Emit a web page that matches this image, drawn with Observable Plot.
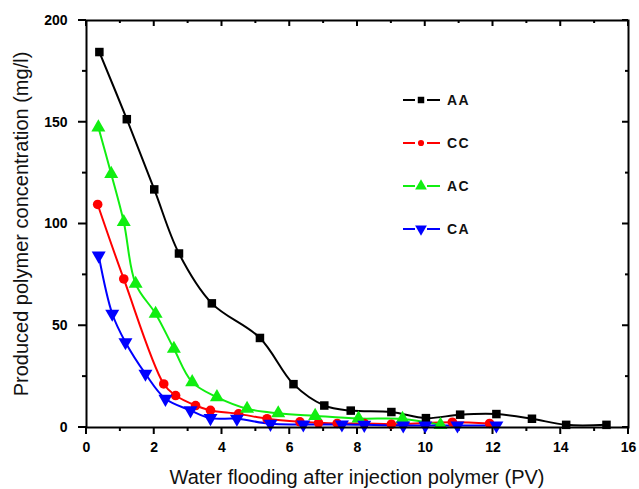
<!DOCTYPE html>
<html>
<head>
<meta charset="utf-8">
<script src="https://cdn.jsdelivr.net/npm/d3@7"></script>
<script src="https://cdn.jsdelivr.net/npm/@observablehq/plot@0.6"></script>
<style>
  html, body { margin: 0; padding: 0; background: #fff; }
  #wrap { position: relative; width: 639px; height: 489px; overflow: hidden; font-family: "Liberation Sans", Arial, sans-serif; }
  .title { position: absolute; font-size: 20px; line-height: 22px; color: #111; white-space: nowrap; }
  #legend { position: absolute; left: 400px; top: 78px; }
  #legend .row { display: flex; align-items: center; height: 43px; }
  #legend span { font-weight: bold; font-size: 14px; letter-spacing: 1.5px; margin-left: 5px; color: #111; }
</style>
</head>
<body>
<div id="wrap">
  <div id="chart"></div>
  <div class="title" id="xtitle" style="left:86px;width:542px;text-align:center;top:466px;">Water flooding after injection polymer (PV)</div>
  <div class="title" id="ytitle" style="left:21px;top:224px;transform:translate(-50%,-50%) rotate(-90deg);">Produced polymer concentration (mg/l)</div>
  <div id="legend"></div>
</div>
<script>
// ---- data ----
const xTicks = [0, 2, 4, 6, 8, 10, 12, 14, 16];
const xMinor = [1, 3, 5, 7, 9, 11, 13, 15];
const yTicks = [0, 50, 100, 150, 200];
const yMinor = [25, 75, 125, 175];

const seriesNames = ["AA", "CC", "AC", "CA"];
const seriesColors = ["#000000", "#ff0000", "#11ee11", "#0000ff"];

const aaX = [0.38, 1.19, 2.0, 2.73, 3.7, 5.12, 6.11, 7.02, 7.8, 9.0, 10.02, 11.03, 12.1, 13.15, 14.16, 15.35];
const aaY = [184.5, 151.5, 117, 85.5, 61, 44, 21.3, 10.8, 8.3, 7.6, 4.6, 6.3, 6.6, 4.3, 1.3, 1.3];

const ccX = [0.33, 1.1, 2.28, 2.63, 3.22, 3.66, 4.49, 5.33, 6.3, 6.85, 7.4, 8.2, 9.0, 10.8, 11.9];
const ccY = [109.6, 73, 21.4, 15.7, 10.8, 8.4, 6.7, 4.3, 2.8, 2.3, 2.0, 2.0, 1.6, 2.6, 2.0];

const acX = [0.35, 0.73, 1.1, 1.45, 2.04, 2.58, 3.12, 3.85, 4.74, 5.66, 6.75, 8.03, 9.33, 10.45];
const acY = [147.5, 124.6, 101, 70.6, 55.9, 38.7, 22.3, 14.9, 9.2, 7.0, 5.7, 4.4, 4.2, 1.3];

const caX = [0.36, 0.76, 1.15, 1.74, 2.33, 3.07, 3.66, 4.44, 5.43, 6.4, 7.54, 8.2, 9.35, 10.0, 10.95, 12.1];
const caY = [84.5, 55.9, 41.9, 26.4, 14.1, 8.4, 4.6, 4.3, 1.8, 1.5, 1.5, 1.3, 1.0, 1.0, 1.0, 1.0];

// ---- layout ----
const W = 639, H = 489, mL = 86, mR = 11, mT = 20, mB = 62;
const xDomain = [0, 16], yDomain = [0, 200];

const downTriangle = {
  draw(ctx, size) {
    const s = Math.sqrt(size / (Math.sqrt(3) / 4));
    const h = s * Math.sqrt(3) / 2;
    ctx.moveTo(-s / 2, -h / 3);
    ctx.lineTo(s / 2, -h / 3);
    ctx.lineTo(0, 2 * h / 3);
    ctx.closePath();
  }
};
const symbols = ["square", "circle", "triangle", downTriangle];
const symbolR = [4.8, 4.8, 5.2, 5.2];

const xs = [aaX, ccX, acX, caX];
const ys = [aaY, ccY, acY, caY];

const seriesMarks = [];
seriesNames.forEach((name, i) => {
  const pts = xs[i].map((x, j) => ({x, y: ys[i][j]}));
  seriesMarks.push(Plot.line(pts, {x: "x", y: "y", stroke: seriesColors[i], strokeWidth: 2, curve: "catmull-rom"}));
});
seriesNames.forEach((name, i) => {
  const pts = xs[i].map((x, j) => ({x, y: ys[i][j]}));
  seriesMarks.push(Plot.dot(pts, {x: "x", y: "y", fill: seriesColors[i], stroke: "none", symbol: () => symbols[i], r: symbolR[i]}));
});

// tick marks drawn as thin rects anchored on the frame edges
const vTick = (data, yv, len, down) => Plot.rect(data, {
  x1: d => d, x2: d => d, y1: () => yv, y2: () => yv,
  insetLeft: -1, insetRight: -1, ...(down ? {insetBottom: -len} : {insetTop: -len}), fill: "black"
});
const hTick = (data, xv, len) => Plot.rect(data, {
  y1: d => d, y2: d => d, x1: () => xv, x2: () => xv,
  insetTop: -1, insetBottom: -1, insetLeft: -len, fill: "black"
});

const chart = Plot.plot({
  width: W,
  height: H,
  marginLeft: mL,
  marginRight: mR,
  marginTop: mT,
  marginBottom: mB,
  style: {fontFamily: "'Liberation Sans', Arial, sans-serif", fontSize: "14px", fontWeight: "bold", color: "black", background: "white"},
  x: {domain: xDomain},
  y: {domain: yDomain},
  marks: [
    Plot.axisX({ticks: xTicks, tickSize: 0, tickPadding: 15, label: null, letterSpacing: 1}),
    Plot.axisY({ticks: yTicks, tickSize: 0, tickPadding: 19, label: null}),
    vTick(xTicks, yDomain[0], 7, true),
    vTick(xMinor, yDomain[0], 4, true),
    vTick(xTicks, yDomain[1], 6, true),
    vTick(xMinor, yDomain[1], 3, true),
    hTick(yTicks, xDomain[0], 8),
    hTick(yMinor, xDomain[0], 4),
    hTick(yTicks, xDomain[1], 6),
    hTick(yMinor, xDomain[1], 3),
    ...seriesMarks,
    Plot.frame({stroke: "black", strokeWidth: 2})
  ]
});
document.getElementById("chart").appendChild(chart);

// ---- legend ----
const legend = document.getElementById("legend");
const legendSym = [d3.symbolSquare, d3.symbolCircle, d3.symbolTriangle, downTriangle];
const legendSize = [42, 30, 60, 60];
seriesNames.forEach((name, i) => {
  const row = document.createElement("div");
  row.className = "row";
  const svg = d3.create("svg").attr("width", 42).attr("height", 14);
  svg.append("line").attr("x1", 3).attr("x2", 15).attr("y1", 7).attr("y2", 7)
    .attr("stroke", seriesColors[i]).attr("stroke-width", 2);
  svg.append("line").attr("x1", 27).attr("x2", 40).attr("y1", 7).attr("y2", 7)
    .attr("stroke", seriesColors[i]).attr("stroke-width", 2);
  svg.append("path").attr("transform", "translate(21,7)")
    .attr("d", d3.symbol(legendSym[i], legendSize[i])())
    .attr("fill", seriesColors[i]);
  row.appendChild(svg.node());
  const t = document.createElement("span");
  t.textContent = name;
  row.appendChild(t);
  legend.appendChild(row);
});
</script>
</body>
</html>
